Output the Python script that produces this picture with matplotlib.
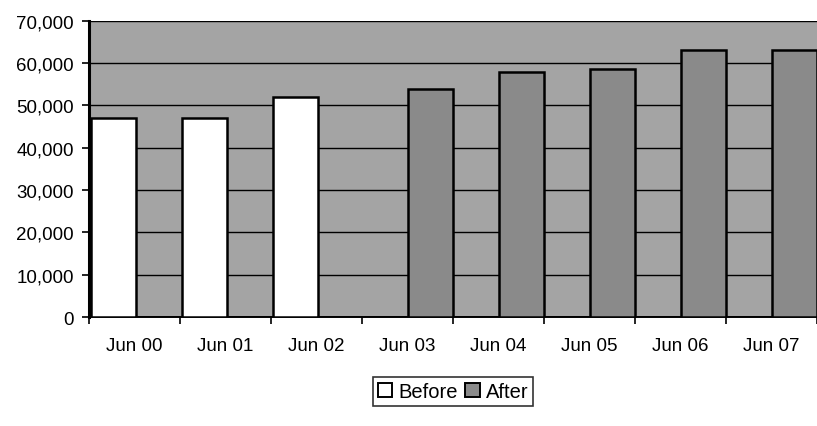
import matplotlib as mpl
mpl.use('Agg')
import matplotlib.pyplot as plt
from matplotlib.patches import Patch
import numpy as np

months = ['Jun 00', 'Jun 01', 'Jun 02', 'Jun 03', 'Jun 04', 'Jun 05', 'Jun 06', 'Jun 07']
before = [47000, 47000, 52000, 0, 0, 0, 0, 0]
after = [0, 0, 0, 54000, 58000, 58500, 63000, 63000]
yticks = [0, 10000, 20000, 30000, 40000, 50000, 60000, 70000]

plt.rcParams['font.family'] = ['Liberation Sans', 'DejaVu Sans']

fig = plt.figure(figsize=(8.17, 4.27), dpi=100)
ax = fig.add_axes([0.109, 0.255, 0.891, 0.694])
ax.set_facecolor('#a4a4a4')

x = np.arange(len(months))
ax.bar(x - 0.23, before, width=0.49, color='white', edgecolor='black', linewidth=1.8, zorder=3)
ax.bar(x + 0.255, after, width=0.49, color='#8a8a8a', edgecolor='black', linewidth=1.8, zorder=3)

ax.set_xlim(-0.5, len(months) - 0.5)
ax.set_ylim(0, 70000)
ax.set_yticks(yticks)
ax.set_yticklabels(['{:,}'.format(v) for v in yticks], fontsize=13.5)
ax.yaxis.grid(True, color='black', linewidth=1.0, zorder=1)
ax.set_axisbelow(True)

# category labels centred, tick marks on category boundaries
ax.set_xticks(x)
ax.set_xticklabels(months, fontsize=13.5)
ax.tick_params(axis='x', which='major', length=0, pad=14)
ax.set_xticks(np.arange(-0.5, len(months), 1), minor=True)
ax.tick_params(axis='x', which='minor', length=5, width=1.2, color='black', direction='out')
ax.tick_params(axis='y', length=5, width=1.2, direction='out', pad=6)

for side in ['top', 'right']:
    ax.spines[side].set_visible(False)
ax.spines['left'].set_linewidth(2.2)
ax.spines['bottom'].set_linewidth(1.4)

handles = [Patch(facecolor='white', edgecolor='black', linewidth=1.4),
           Patch(facecolor='#8a8a8a', edgecolor='black', linewidth=1.4)]
leg = fig.legend(handles, ['Before', 'After'], loc='center', bbox_to_anchor=(0.5545, 0.081),
                 ncol=2, fontsize=14.5, frameon=True, fancybox=False, edgecolor='black',
                 handlelength=0.7, handleheight=0.7, handletextpad=0.3, columnspacing=0.4,
                 borderpad=0.25, borderaxespad=0.2)
leg.get_frame().set_linewidth(1.2)

fig.savefig('out.png', dpi=100)
